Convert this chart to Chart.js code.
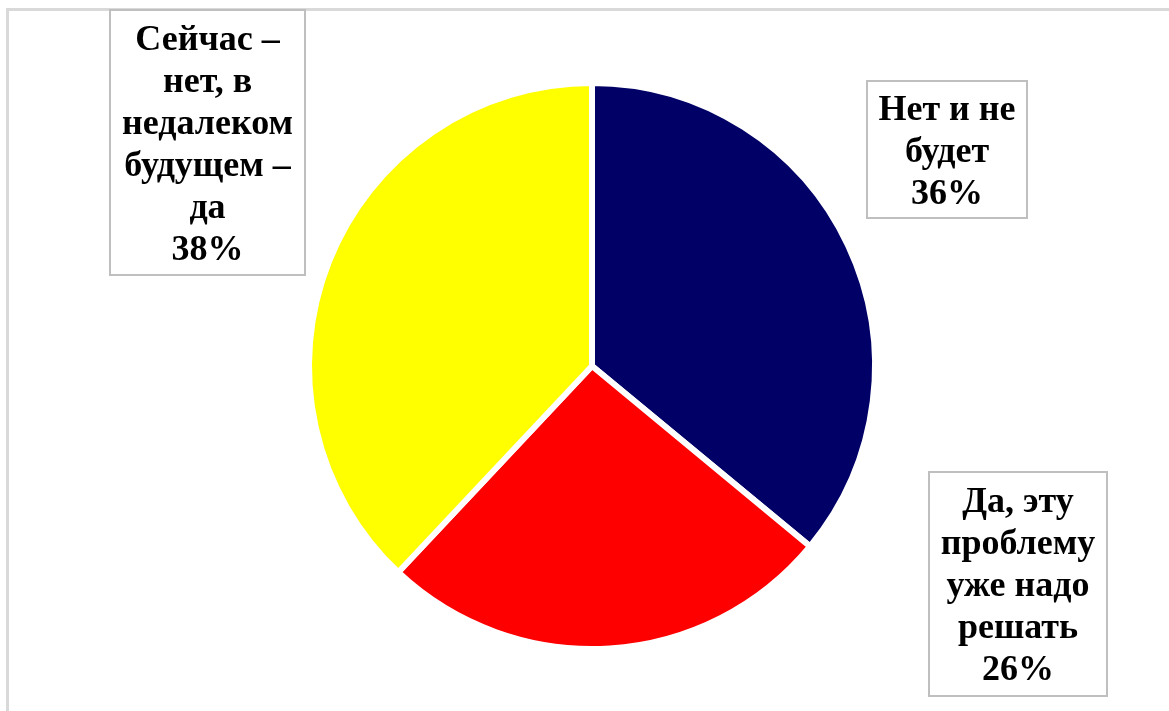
<!DOCTYPE html>
<html>
<head>
<meta charset="utf-8">
<script src="https://cdn.jsdelivr.net/npm/chart.js@4.4.0/dist/chart.umd.min.js"></script>
<style>
    html, body { margin: 0; padding: 0; background: #fff; }
    #wrap { position: relative; width: 1169px; height: 711px; overflow: hidden; }
    #frame {
        position: absolute; left: 6px; top: 8px; right: -10px; bottom: -10px;
        border-top: 3px solid #d9d9d9; border-left: 3px solid #d9d9d9;
    }
    #pie { position: absolute; left: 0; top: 0; }
</style>
</head>
<body>
<div id="wrap">
    <div id="frame"></div>
    <canvas id="pie" width="1169" height="711"></canvas>
</div>
<script>
// categories (split into lines as on the picture)
const categorias = [
    ['Нет и не', 'будет'],
    ['Да, эту', 'проблему', 'уже надо', 'решать'],
    ['Сейчас –', 'нет, в', 'недалеком', 'будущем –', 'да']
];
const porcentajes = [36, 26, 38];
const colores = ['#000066', '#FF0000', '#FFFF00'];

// label boxes placement (px)
const cajas = [
    { x: 867, y: 81, w: 160, h: 137 },
    { x: 929, y: 472, w: 178, h: 224 },
    { x: 110, y: 10, w: 195, h: 265 }
];

const etiquetasPlugin = {
    id: 'etiquetas',
    afterDraw(chart) {
        const ctx = chart.ctx;
        const labels = chart.data.labels;
        const data = chart.data.datasets[0].data;
        const lh = 42;
        ctx.save();
        labels.forEach((lab, i) => {
            const b = cajas[i];
            ctx.fillStyle = '#ffffff';
            ctx.fillRect(b.x, b.y, b.w, b.h);
            ctx.strokeStyle = '#bfbfbf';
            ctx.lineWidth = 2;
            ctx.strokeRect(b.x, b.y, b.w, b.h);

            const lines = [...lab, data[i] + '%'];
            ctx.fillStyle = '#000000';
            ctx.font = 'bold 36px "Liberation Serif", "Times New Roman", serif';
            ctx.textAlign = 'center';
            ctx.textBaseline = 'middle';
            const cx = b.x + b.w / 2;
            let y = b.y + b.h / 2 - (lines.length - 1) * lh / 2 + 3;
            lines.forEach(t => {
                ctx.fillText(t, cx, y);
                y += lh;
            });
        });
        ctx.restore();
    }
};

function initPie() {
    const ctx = document.getElementById('pie');
    new Chart(ctx, {
        type: 'pie',
        data: {
            labels: categorias,
            datasets: [{
                data: porcentajes,
                backgroundColor: colores,
                borderColor: '#ffffff',
                borderWidth: 6
            }]
        },
        options: {
            responsive: false,
            animation: false,
            devicePixelRatio: 1,
            layout: { padding: { top: 80, bottom: 59, left: 306, right: 291 } },
            plugins: { legend: { display: false }, tooltip: { enabled: false } }
        },
        plugins: [etiquetasPlugin]
    });
}

initPie();
</script>
</body>
</html>
